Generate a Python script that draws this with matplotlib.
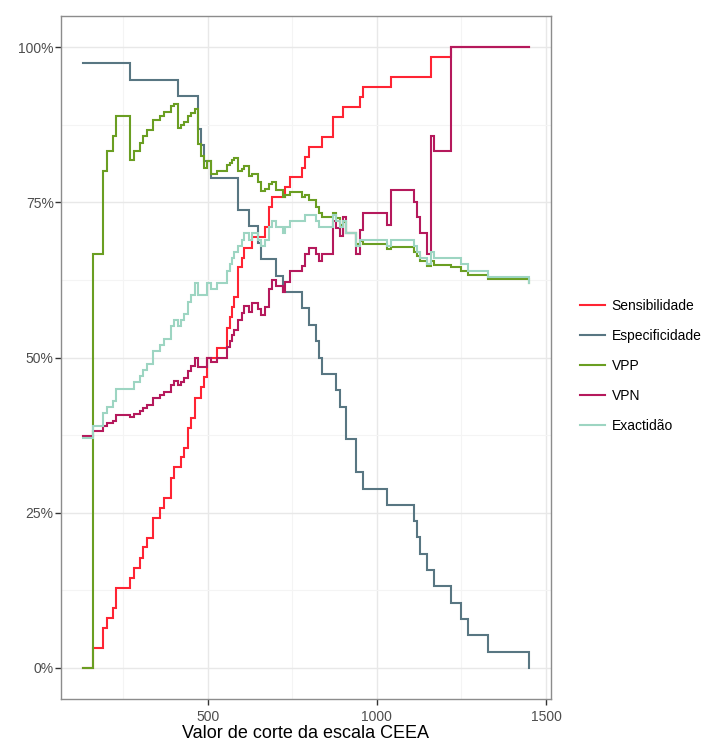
import matplotlib
matplotlib.use("Agg")
import matplotlib.pyplot as plt
from matplotlib.ticker import FixedLocator, FuncFormatter

plt.rcParams['font.family'] = ['Liberation Sans', 'DejaVu Sans']

# valores de corte da escala CEEA
cutoff = [132, 161, 191, 201, 220, 230, 270, 281, 300, 310, 321, 339, 360, 370, 390,
          400, 411, 420, 431, 441, 451, 461, 471, 481, 490, 498, 510, 528, 557, 567,
          572, 577, 589, 601, 608, 621, 632, 650, 658, 670, 680, 690, 703, 722, 729,
          744, 778, 788, 798, 819, 829, 839, 869, 880, 891, 901, 909, 938, 950, 960,
          1031, 1041, 1110, 1119, 1129, 1149, 1160, 1170, 1220, 1250, 1269, 1330, 1449]

sens = [0, 3.2, 6.5, 8.1, 9.7, 12.9, 14.5, 16.1, 17.7, 19.4,
        21.0, 24.2, 25.8, 27.4, 30.6, 32.3, 32.3, 33.9, 35.5, 38.7,
        40.3, 43.5, 43.5, 45.2, 46.8, 50.0, 50.0, 51.6, 54.8, 56.5,
        58.1, 59.7, 64.5, 66.1, 67.7, 67.7, 69.4, 69.4, 69.4, 71.0,
        74.2, 75.8, 75.8, 75.8, 77.4, 79.0, 80.6, 82.3, 83.9, 83.9,
        83.9, 85.5, 88.7, 88.7, 88.7, 90.3, 90.3, 90.3, 91.9, 93.5,
        93.5, 95.2, 95.2, 95.2, 95.2, 95.2, 98.4, 98.4, 100, 100,
        100, 100, 100]

spec = [97.4, 97.4, 97.4, 97.4, 97.4, 97.4, 94.7, 94.7, 94.7, 94.7,
        94.7, 94.7, 94.7, 94.7, 94.7, 94.7, 92.1, 92.1, 92.1, 92.1,
        92.1, 92.1, 86.8, 84.2, 81.6, 81.6, 78.9, 78.9, 78.9, 78.9,
        78.9, 78.9, 73.7, 73.7, 73.7, 71.1, 71.1, 68.4, 65.8, 65.8,
        65.8, 65.8, 63.2, 60.5, 60.5, 60.5, 57.9, 57.9, 55.3, 52.6,
        50.0, 47.4, 47.4, 44.7, 42.1, 42.1, 36.8, 31.6, 31.6, 28.9,
        26.3, 26.3, 23.7, 21.1, 18.4, 15.8, 15.8, 13.2, 10.5, 7.9,
        5.3, 2.6, 0]

vpp = [0, 66.7, 80.0, 83.3, 85.7, 88.9, 81.8, 83.3, 84.6, 85.7,
       86.7, 88.2, 88.9, 89.5, 90.5, 90.9, 87.0, 87.5, 88.0, 88.9,
       89.3, 90.0, 84.4, 82.4, 80.6, 81.6, 79.5, 80.0, 81.0, 81.4,
       81.8, 82.2, 80.0, 80.4, 80.8, 79.2, 79.6, 78.2, 76.8, 77.2,
       78.0, 78.3, 77.0, 75.8, 76.2, 76.6, 75.8, 76.1, 75.4, 74.3,
       73.2, 72.6, 73.3, 72.4, 71.4, 71.8, 70.0, 68.3, 68.7, 68.2,
       67.4, 67.8, 67.0, 66.3, 65.6, 64.8, 65.6, 64.9, 64.6, 63.9,
       63.3, 62.6, 62.0]

vpn = [37.4, 38.1, 38.9, 39.4, 39.8, 40.7, 40.4, 40.9, 41.4, 41.9,
       42.4, 43.4, 43.9, 44.4, 45.6, 46.2, 45.5, 46.1, 46.7, 47.9,
       48.6, 50.0, 48.5, 48.5, 48.4, 50.0, 49.2, 50.0, 51.7, 52.6,
       53.6, 54.5, 56.0, 57.1, 58.3, 57.4, 58.7, 57.8, 56.8, 58.1,
       61.0, 62.5, 61.5, 60.5, 62.2, 63.9, 64.7, 66.7, 67.7, 66.7,
       65.5, 66.7, 72.0, 70.8, 69.6, 72.7, 70.0, 66.7, 70.6, 73.3,
       71.4, 76.9, 75.0, 72.7, 70.0, 66.7, 85.7, 83.3, 100, 100,
       100, 100, 100]

exact = [37, 39, 41, 42, 43, 45, 45, 46, 47, 48,
         49, 51, 52, 53, 55, 56, 55, 56, 57, 59,
         60, 62, 60, 60, 60, 62, 61, 62, 64, 65,
         66, 67, 68, 69, 70, 69, 70, 69, 68, 69,
         71, 72, 71, 70, 71, 72, 72, 73, 73, 72,
         71, 71, 73, 72, 71, 72, 70, 68, 69, 69,
         68, 69, 68, 67, 66, 65, 67, 66, 66, 65,
         64, 63, 62]

series = [
    ('Sensibilidade', sens, '#FF2433'),
    ('Especificidade', spec, '#587682'),
    ('VPP', vpp, '#6A9E22'),
    ('VPN', vpn, '#B5195C'),
    ('Exactidão', exact, '#9DD5C2'),
]

fig = plt.figure(figsize=(7.05, 7.43), dpi=100, facecolor='white')
ax = fig.add_axes([61 / 705, 1 - 699 / 743, 490 / 705, 683 / 743])

for nome, vals, cor in series:
    ax.plot(cutoff, vals, drawstyle='steps-post', color=cor, lw=1.5,
            label=nome, solid_joinstyle='miter', zorder=3)

span = cutoff[-1] - cutoff[0]
ax.set_xlim(cutoff[0] - 0.05 * span, cutoff[-1] + 0.05 * span)
ax.set_ylim(-5, 105)

ax.xaxis.set_major_locator(FixedLocator([500, 1000, 1500]))
ax.xaxis.set_minor_locator(FixedLocator([250, 750, 1250]))
ax.yaxis.set_major_locator(FixedLocator([0, 25, 50, 75, 100]))
ax.yaxis.set_minor_locator(FixedLocator([12.5, 37.5, 62.5, 87.5]))
ax.yaxis.set_major_formatter(FuncFormatter(lambda v, p: f'{v:.0f}%'))

ax.grid(True, which='major', color='#E8E8E8', lw=1.0, zorder=0)
ax.grid(True, which='minor', color='#F4F4F4', lw=0.8, zorder=0)
ax.set_axisbelow(True)

for s in ax.spines.values():
    s.set_color('#8C8C8C')
    s.set_linewidth(1.0)

ax.tick_params(which='major', length=4.3, width=1.0, color='#333333',
               labelcolor='#4D4D4D', labelsize=10)
ax.tick_params(axis='x', which='major', pad=3.5)
ax.tick_params(axis='y', which='major', pad=1)
ax.tick_params(which='minor', length=0)

ax.set_xlabel('Valor de corte da escala CEEA', fontsize=13, color='black', labelpad=0.5)

fig.legend(loc='center left', bbox_to_anchor=(580 / 705, 1 - 366 / 743),
           frameon=False, fontsize=10, handlelength=1.8, handletextpad=0.48,
           labelspacing=1.16, borderpad=0, borderaxespad=0)

fig.savefig('out.png', dpi=100, facecolor='white')
